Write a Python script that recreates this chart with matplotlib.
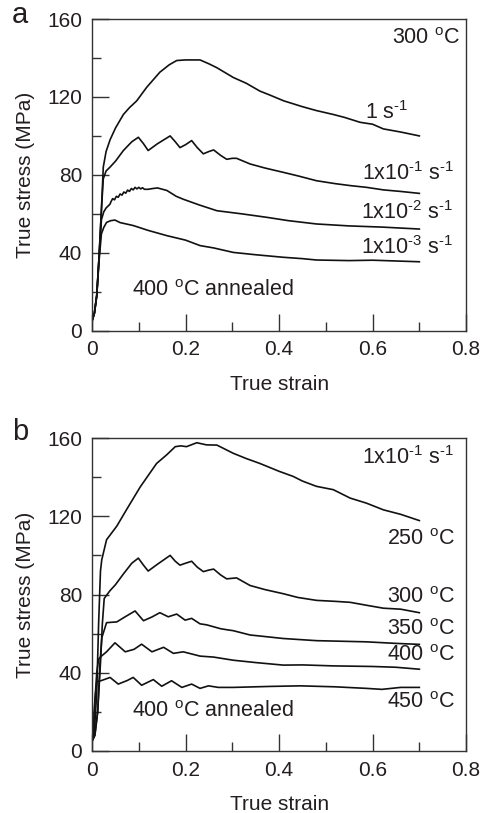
import numpy as np
import matplotlib
matplotlib.use("Agg")
import matplotlib.pyplot as plt
from matplotlib.ticker import MultipleLocator

plt.rcParams['font.family'] = ['Liberation Sans', 'DejaVu Sans']
plt.rcParams['mathtext.fontset'] = 'custom'
plt.rcParams['mathtext.rm'] = 'Liberation Sans'
plt.rcParams['mathtext.it'] = 'Liberation Sans'

# ---- panel a: 300 C, different strain rates ----
a_1_x = [0, 0.005, 0.01, 0.015, 0.02, 0.024, 0.03, 0.0385, 0.05, 0.067, 0.08, 0.0955, 0.117, 0.145, 0.165,
         0.181, 0.2, 0.231, 0.25, 0.267, 0.302, 0.33, 0.359, 0.38, 0.41, 0.45, 0.48, 0.516, 0.54, 0.573,
         0.6, 0.623, 0.66, 0.70]
a_1_y = [5, 9, 18, 38, 62, 84, 92, 98, 104, 111, 114.5, 118, 125, 132.7, 136.5,
         138.7, 139, 139, 137, 135, 130, 127, 123, 121, 118, 115, 113, 111, 109.5, 107,
         106, 103.6, 102, 100]

a_2_x = [0, 0.005, 0.01, 0.015, 0.02, 0.024, 0.03, 0.0385, 0.05, 0.067, 0.085, 0.099, 0.11, 0.12, 0.14,
         0.167, 0.178, 0.188, 0.2, 0.213, 0.225, 0.238, 0.25, 0.26, 0.275, 0.288, 0.3, 0.309, 0.338,
         0.37, 0.409, 0.44, 0.48, 0.52, 0.552, 0.587, 0.623, 0.66, 0.70]
a_2_y = [5, 9, 18, 38, 62, 78, 82, 84, 87, 92.5, 97, 99.3, 96, 92.5, 96,
         100, 97, 94, 95.5, 97.6, 94, 90.8, 92, 92.8, 90, 88, 88.5, 88.5, 85.6,
         83.5, 81.3, 79.5, 77, 75.5, 74.5, 73.6, 72.3, 71.5, 70.5]

a_3_x = [0, 0.005, 0.01, 0.015, 0.02, 0.025, 0.03, 0.0385, 0.04, 0.044, 0.048, 0.052, 0.056, 0.06, 0.064,
         0.068, 0.072, 0.076, 0.08, 0.084, 0.088, 0.092, 0.096, 0.10, 0.104, 0.108, 0.112, 0.12, 0.13,
         0.14, 0.16, 0.18, 0.195, 0.23, 0.267, 0.32, 0.374, 0.42, 0.48, 0.55, 0.62, 0.70]
a_3_y = [5, 9, 18, 38, 57, 61, 63, 65, 66, 67.8, 67.2, 69, 68.5, 70.2, 69.6,
         71.2, 70.6, 72.2, 71.5, 73, 72.3, 73.6, 72.8, 73.6, 72.8, 73.4, 72.6, 72.6, 73,
         73.3, 72, 69, 67.5, 64.5, 61.6, 60, 58.2, 56.5, 54.8, 53.8, 53.2, 52.2]

a_4_x = [0, 0.005, 0.01, 0.015, 0.02, 0.025, 0.031, 0.04, 0.049, 0.06, 0.088, 0.12, 0.16, 0.2, 0.231,
         0.26, 0.302, 0.35, 0.409, 0.45, 0.48, 0.55, 0.6, 0.65, 0.70]
a_4_y = [5, 9, 18, 36, 49.7, 53, 55.6, 56.5, 56.8, 55.5, 54, 51.5, 48.8, 46.5, 43.7,
         42.5, 40.2, 39, 37.7, 37, 36.3, 36, 36.2, 35.8, 35.4]

# ---- panel b: 1x10^-1 s^-1, different temperatures ----
b_250_x = [0, 0.005, 0.01, 0.014, 0.018, 0.0207, 0.031, 0.053, 0.074, 0.103, 0.138, 0.16, 0.178, 0.19,
           0.202, 0.224, 0.245, 0.267, 0.302, 0.33, 0.359, 0.4, 0.43, 0.45, 0.48, 0.516, 0.552, 0.587,
           0.623, 0.66, 0.70]
b_250_y = [5, 10, 30, 65, 92, 97.7, 108, 115, 123.5, 135, 147, 151.5, 155.6, 156,
           155.6, 157.6, 156.5, 156.4, 152.2, 149.5, 147, 143, 140.4, 138, 135.3, 133.6, 129.3, 126.7,
           123.3, 121, 117.8]

b_300_x = [0, 0.006, 0.012, 0.018, 0.022, 0.026, 0.0385, 0.05, 0.067, 0.085, 0.099, 0.11, 0.12, 0.14,
           0.167, 0.178, 0.188, 0.2, 0.213, 0.225, 0.238, 0.25, 0.26, 0.275, 0.288, 0.309, 0.338, 0.37,
           0.409, 0.44, 0.48, 0.52, 0.552, 0.587, 0.623, 0.66, 0.70]
b_300_y = [5, 8, 20, 45, 65, 78, 82, 85, 90.5, 96, 98.6, 95, 92, 95.5,
           100, 97, 95, 96, 97, 94, 91.7, 92.5, 93, 90, 88, 88.5, 84.6, 82.5,
           80.4, 78.5, 77, 76.5, 76, 74.5, 73, 72.5, 70.7]

b_350_x = [0, 0.006, 0.012, 0.017, 0.021, 0.031, 0.053, 0.07, 0.092, 0.11, 0.128, 0.145, 0.163, 0.181,
           0.199, 0.213, 0.231, 0.245, 0.26, 0.275, 0.288, 0.302, 0.338, 0.37, 0.409, 0.48, 0.587, 0.65, 0.70]
b_350_y = [5, 8, 20, 45, 58, 65.6, 66, 68.5, 71.6, 66.6, 68.5, 70.7, 68.6, 70,
           66.9, 67.8, 65, 64.5, 63.5, 62.5, 62, 61.5, 59.3, 58.5, 57.5, 56.4, 55.8, 55, 54.5]

b_400_x = [0, 0.003, 0.006, 0.01, 0.014, 0.02, 0.031, 0.049, 0.071, 0.09, 0.106, 0.128, 0.153, 0.174,
           0.195, 0.231, 0.26, 0.302, 0.35, 0.409, 0.45, 0.516, 0.6, 0.65, 0.70]
b_400_y = [5, 12, 25, 40, 47, 48.5, 50.7, 55.3, 50.7, 52, 54.6, 50.7, 53, 49.9,
           50.7, 48.5, 48, 46.4, 45.2, 43.9, 44, 43.5, 43.2, 42.8, 41.8]

b_450_x = [0, 0.003, 0.006, 0.01, 0.02, 0.0385, 0.056, 0.075, 0.088, 0.106, 0.131, 0.149, 0.17, 0.192,
           0.213, 0.231, 0.249, 0.27, 0.302, 0.38, 0.445, 0.52, 0.587, 0.62, 0.66, 0.70]
b_450_y = [5, 12, 26, 35.4, 36, 37.6, 34.2, 36, 37.6, 33.6, 36.5, 33.1, 35.9, 32.5,
           34.2, 32, 33.3, 32.5, 32.5, 33, 33.3, 32.8, 32, 31.5, 32.5, 32.5]

TXT = '#231f20'
FS = 15.5

fig = plt.figure(figsize=(4.82, 8.13), dpi=100)
ax_a = fig.add_axes([0.191, 0.5932, 0.776, 0.3834])
ax_b = fig.add_axes([0.191, 0.0763, 0.776, 0.3849])


def rate(n):
    # strain rate label with hyphen-style superscripts like the original
    if n == 0:
        return r'1 s$^{\text{-}1}$'
    return r'1x10$^{\text{-}%d}$ s$^{\text{-}1}$' % n


def style_axes(ax):
    ax.set_xlim(0, 0.8)
    ax.set_ylim(0, 160)
    ax.xaxis.set_minor_locator(MultipleLocator(0.1))
    ax.yaxis.set_major_locator(MultipleLocator(40))
    ax.yaxis.set_minor_locator(MultipleLocator(20))
    ax.set_xticks([0, 0.2, 0.4, 0.6, 0.8])
    ax.set_xticklabels(['0', '0.2', '0.4', '0.6', '0.8'])
    ax.tick_params(which='major', direction='in', length=12, width=1.0, top=False, right=False,
                   labelsize=15, colors='#333333', labelcolor=TXT, pad=7)
    ax.tick_params(which='minor', direction='in', length=6.5, width=1.0, top=False, right=False,
                   colors='#333333')
    for sp in ax.spines.values():
        sp.set_color('#333333')
        sp.set_linewidth(1.0)
    ax.set_xlabel('True strain', fontsize=15, color=TXT, labelpad=11)
    ax.set_ylabel('True stress (MPa)', fontsize=15, color=TXT, labelpad=9)


for xs, ys in [(a_1_x, a_1_y), (a_2_x, a_2_y), (a_3_x, a_3_y), (a_4_x, a_4_y)]:
    ax_a.plot(xs, ys, color='#111111', lw=1.2)
style_axes(ax_a)

ax_a.text(0.786, 150, r'300 $^{\mathrm{o}}$C', fontsize=FS, color=TXT, ha='right', va='center')
ax_a.text(0.677, 112, rate(0), fontsize=FS, color=TXT, ha='right', va='center')
ax_a.text(0.776, 80.5, rate(1), fontsize=FS, color=TXT, ha='right', va='center')
ax_a.text(0.773, 60.8, rate(2), fontsize=FS, color=TXT, ha='right', va='center')
ax_a.text(0.773, 42.8, rate(3), fontsize=FS, color=TXT, ha='right', va='center')
ax_a.text(0.085, 20.5, r'400 $^{\mathrm{o}}$C annealed', fontsize=FS, color=TXT, ha='left', va='center')
fig.text(0.025, 0.982, 'a', fontsize=21, color=TXT, ha='left', va='center')

for xs, ys in [(b_250_x, b_250_y), (b_300_x, b_300_y), (b_350_x, b_350_y),
               (b_400_x, b_400_y), (b_450_x, b_450_y)]:
    ax_b.plot(xs, ys, color='#111111', lw=1.2)
style_axes(ax_b)

ax_b.text(0.776, 149.8, rate(1), fontsize=FS, color=TXT, ha='right', va='center')
ax_b.text(0.776, 108.3, r'250 $^{\mathrm{o}}$C', fontsize=FS, color=TXT, ha='right', va='center')
ax_b.text(0.776, 78.5, r'300 $^{\mathrm{o}}$C', fontsize=FS, color=TXT, ha='right', va='center')
ax_b.text(0.776, 62.2, r'350 $^{\mathrm{o}}$C', fontsize=FS, color=TXT, ha='right', va='center')
ax_b.text(0.776, 49, r'400 $^{\mathrm{o}}$C', fontsize=FS, color=TXT, ha='right', va='center')
ax_b.text(0.776, 24.6, r'450 $^{\mathrm{o}}$C', fontsize=FS, color=TXT, ha='right', va='center')
ax_b.text(0.085, 20, r'400 $^{\mathrm{o}}$C annealed', fontsize=FS, color=TXT, ha='left', va='center')
fig.text(0.025, 0.4685, 'b', fontsize=21, color=TXT, ha='left', va='center')

fig.savefig('out.png', dpi=100)
